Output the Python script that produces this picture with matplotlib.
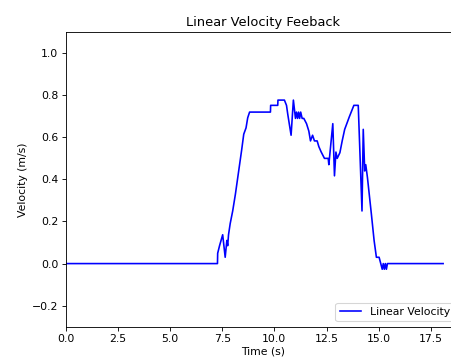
import numpy as np
import matplotlib
matplotlib.use("Agg")
import matplotlib.pyplot as plt

# velocity feedback (time in s, velocity in m/s)
time = [0.0, 7.27, 7.28, 7.37, 7.52, 7.64, 7.72, 7.76, 7.80, 7.88, 8.00, 8.13,
        8.23, 8.33, 8.43, 8.53, 8.64, 8.72, 8.81, 9.81, 9.82, 10.16, 10.17,
        10.48, 10.58, 10.64, 10.80, 10.91, 11.01, 11.06, 11.11, 11.16, 11.21,
        11.26, 11.33, 11.41, 11.54, 11.65, 11.73, 11.83, 11.92, 12.05, 12.13,
        12.24, 12.40, 12.58, 12.61, 12.80, 12.88, 12.95, 13.01, 13.14, 13.25,
        13.37, 13.49, 13.59, 13.69, 13.81, 14.02, 14.20, 14.26, 14.33, 14.38,
        14.46, 14.65, 14.78, 14.89, 15.02, 15.10, 15.17, 15.22, 15.27, 15.32,
        15.37, 15.42, 18.09]
velocity = [0.0, 0.0, 0.049, 0.085, 0.137, 0.03, 0.11, 0.085, 0.137, 0.19, 0.25, 0.33,
            0.40, 0.47, 0.54, 0.615, 0.645, 0.693, 0.72, 0.72, 0.752, 0.752, 0.777,
            0.777, 0.752, 0.71, 0.61, 0.777, 0.69, 0.72, 0.69, 0.72, 0.69,
            0.72, 0.69, 0.69, 0.665, 0.63, 0.583, 0.61, 0.583, 0.583, 0.556,
            0.531, 0.50, 0.50, 0.47, 0.665, 0.417, 0.53, 0.50, 0.527, 0.583,
            0.638, 0.67, 0.697, 0.722, 0.752, 0.752, 0.25, 0.638, 0.44, 0.47,
            0.41, 0.235, 0.11, 0.03, 0.03, 0.0, -0.027, 0.0, -0.027, 0.0,
            -0.027, 0.0, 0.0]

dpi = 78
fig = plt.figure(figsize=(451 / dpi, 361 / dpi), dpi=dpi)
ax = fig.add_axes([0.146, 0.095, 0.874, 0.816])
ax.plot(time, velocity, color="b", label="Linear Velocity")
ax.set_xlim(0, 18.9)
ax.set_ylim(-0.3, 1.1)
ax.set_xticks(np.arange(0, 18, 2.5))
ax.set_yticks(np.arange(-0.2, 1.01, 0.2))
ax.set_xlabel("Time (s)", labelpad=2)
ax.set_ylabel("Velocity (m/s)")
ax.set_title("Linear Velocity Feeback")
ax.legend(loc="lower right")
fig.savefig("out.png", dpi=dpi)
